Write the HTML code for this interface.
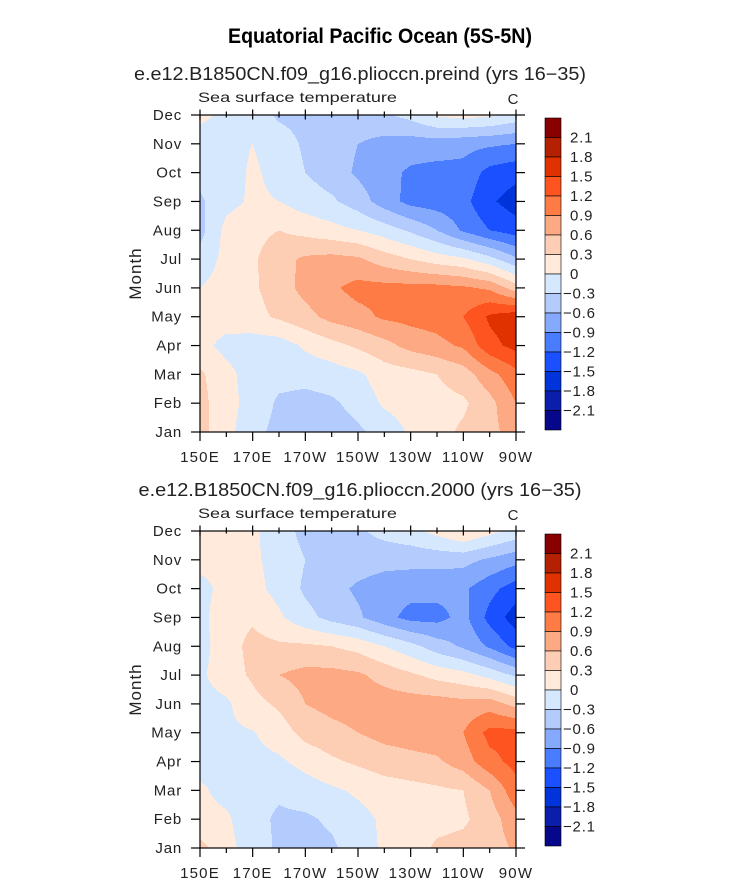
<!DOCTYPE html>
<html><head><meta charset="utf-8">
<style>
html,body{margin:0;padding:0;background:#fff;}
svg{display:block;font-family:"Liberation Sans",sans-serif;}
</style></head>
<body>
<svg id="fig" width="733" height="890" viewBox="0 0 733 890" xmlns="http://www.w3.org/2000/svg">
<text x="228" y="43" textLength="304" lengthAdjust="spacingAndGlyphs" font-size="21" font-weight="bold" fill="#000">Equatorial Pacific Ocean (5S-5N)</text>
</svg>
<script>
// ---- data ----
const months = ["Jan","Feb","Mar","Apr","May","Jun","Jul","Aug","Sep","Oct","Nov","Dec"];
const lons = [150,160,170,180,190,200,210,220,230,240,250,260,270];
const lonTickLabels = ["150E","170E","170W","150W","130W","110W","90W"];
const lonTickValues = [150,170,190,210,230,250,270];
const levels = [-2.1,-1.8,-1.5,-1.2,-0.9,-0.6,-0.3,0,0.3,0.6,0.9,1.2,1.5,1.8,2.1];
const levelLabels = ["2.1","1.8","1.5","1.2","0.9","0.6","0.3","0","\u22120.3","\u22120.6","\u22120.9","\u22121.2","\u22121.5","\u22121.8","\u22122.1"];
const colors = ["#07078c","#0a1eac","#0033d9","#1a50ff","#4a7cff","#85a9fd","#b3cbfd","#d6e8fe","#ffeadb","#fdcdb4","#fdaa84","#fe7b46","#fe5420","#e03200","#b52000","#880000"];
const sstPreind = [
 [0.4,0.1,-0.2,-0.4,-0.45,-0.45,-0.35,-0.2,0.05,0.2,0.35,0.5,0.75],
 [0.4,0.1,-0.1,-0.35,-0.4,-0.35,-0.2,0.05,0.15,0.2,0.25,0.5,0.9],
 [0.35,0.1,-0.15,-0.2,-0.2,-0.15,-0.05,0.15,0.2,0.3,0.45,0.8,1.1],
 [0.1,-0.1,-0.15,-0.15,0.05,0.2,0.35,0.5,0.7,0.8,0.95,1.4,1.6],
 [0.15,0.15,0.2,0.35,0.5,0.7,0.8,0.95,1.0,1.05,1.2,1.55,1.7],
 [0.0,0.15,0.25,0.45,0.7,0.85,1.0,1.0,1.0,1.0,0.95,0.85,0.45],
 [-0.2,0.1,0.25,0.5,0.65,0.7,0.65,0.45,0.3,0.15,0.05,-0.2,-0.55],
 [-0.4,0.1,0.2,0.3,0.2,0.1,0.0,-0.15,-0.35,-0.6,-0.95,-1.2,-1.35],
 [-0.35,-0.1,0.05,0.0,-0.15,-0.25,-0.45,-0.75,-1.0,-1.05,-1.1,-1.45,-1.65],
 [-0.2,-0.15,0.05,-0.1,-0.3,-0.45,-0.65,-0.8,-0.95,-1.0,-1.0,-1.3,-1.4],
 [-0.1,-0.1,0.0,-0.15,-0.35,-0.45,-0.6,-0.7,-0.75,-0.75,-0.8,-0.85,-0.9],
 [0.05,-0.05,-0.15,-0.35,-0.4,-0.4,-0.4,-0.35,-0.2,0.05,0.1,0.05,-0.1]
];
const sst2000 = [
 [0.4,0.1,-0.15,-0.35,-0.4,-0.35,-0.15,0.05,0.15,0.35,0.4,0.45,0.65],
 [0.1,0.05,-0.2,-0.35,-0.35,-0.25,-0.1,0.05,0.15,0.2,0.25,0.45,0.8],
 [0.05,-0.1,-0.2,-0.25,-0.15,-0.05,0.05,0.15,0.2,0.25,0.3,0.6,1.1],
 [-0.1,-0.1,-0.1,-0.05,0.1,0.25,0.35,0.45,0.5,0.55,0.75,1.1,1.3],
 [-0.1,-0.05,-0.02,0.15,0.4,0.5,0.6,0.7,0.75,0.8,0.9,1.3,1.3],
 [-0.1,-0.05,0.2,0.35,0.6,0.7,0.75,0.75,0.75,0.75,0.7,0.75,0.5],
 [-0.05,0.15,0.35,0.6,0.7,0.7,0.65,0.5,0.35,0.2,0.1,-0.1,-0.35],
 [-0.1,0.15,0.4,0.35,0.35,0.3,0.2,0.0,-0.2,-0.45,-0.65,-0.95,-1.3],
 [-0.1,0.2,0.25,0.05,-0.2,-0.4,-0.55,-0.8,-1.0,-1.0,-0.8,-1.3,-1.65],
 [-0.1,0.1,0.1,-0.1,-0.35,-0.5,-0.65,-0.75,-0.8,-0.8,-0.85,-1.1,-1.35],
 [0.1,0.1,0.05,-0.1,-0.3,-0.4,-0.45,-0.5,-0.5,-0.5,-0.5,-0.65,-0.8],
 [0.3,0.1,0.05,-0.15,-0.4,-0.4,-0.35,-0.2,-0.1,0.1,0.3,0.1,-0.1]
];
const subtitles = ["e.e12.B1850CN.f09_g16.plioccn.preind (yrs 16\u221235)","e.e12.B1850CN.f09_g16.plioccn.2000 (yrs 16\u221235)"];
const subtitleLengths = [452, 443];

const NS = "http://www.w3.org/2000/svg";
const svg = document.getElementById('fig');
function mk(tag, attrs, parent){
  const e = document.createElementNS(NS, tag);
  for (const k in attrs) e.setAttribute(k, attrs[k]);
  (parent||svg).appendChild(e);
  return e;
}
function colorIndex(v){
  let i = 0;
  while (i < levels.length && v >= levels[i]) i++;
  return i;
}
function sample(data, lon, m){
  let fx = (lon - lons[0]) / (lons[1]-lons[0]);
  fx = Math.max(0, Math.min(lons.length-1, fx));
  let fy = Math.max(0, Math.min(months.length-1, m));
  const x0 = Math.min(Math.floor(fx), lons.length-2), y0 = Math.min(Math.floor(fy), months.length-2);
  const tx = fx - x0, ty = fy - y0;
  const a = data[y0][x0], b = data[y0][x0+1], c = data[y0+1][x0], d = data[y0+1][x0+1];
  return (a*(1-tx)+b*tx)*(1-ty) + (c*(1-tx)+d*tx)*ty;
}

function panel(data, top, idx){
  const L = 200, R = 516, T = top, B = top + 317;
  const xScale = lon => L + (lon - 150) / 120 * (R - L);
  const yScale = m => B - m / 11 * (B - T);
  const g = mk('g', {}, svg);
  
  
  const st = mk('text', {x: 360 - subtitleLengths[idx]/2 + (idx? 0:0), y: top - 35, textLength: subtitleLengths[idx], lengthAdjust:'spacingAndGlyphs', 'font-size':18, fill:'#222'}, svg);
  st.textContent = subtitles[idx];
  
  
  const ss = mk('text', {x: 198, y: top - 13, textLength: 199, lengthAdjust:'spacingAndGlyphs', 'font-size':14, fill:'#222'}, svg);
  ss.textContent = 'Sea surface temperature';
  
  
  const un = mk('text', {x: 513, y: top - 11, 'text-anchor':'middle', 'font-size':15, fill:'#222'}, svg);
  un.textContent = 'C';
  
  
  const step = 1;
  for (let py = T; py < B; py += step){
    const m = (B - (py + step/2)) / (B - T) * 11;
    let runStart = L, runCol = -1;
    for (let px = L; px <= R; px += 1){
      let ci = -2;
      if (px < R){
        const lon = 150 + (px + 0.5 - L) / (R - L) * 120;
        ci = colorIndex(sample(data, lon, m));
      }
      if (ci !== runCol){
        if (runCol >= 0){
          const r = mk('rect', {x: runStart, y: py, width: px - runStart, height: Math.min(step, B-py)+0.3, fill: colors[runCol]}, g);
          
          
        }
        runStart = px; runCol = ci;
      }
    }
  }
  const fr = mk('rect', {x:L, y:T, width:R-L, height:B-T, fill:'none', stroke:'#000', 'stroke-width':1.2}, svg);
  
  
  months.forEach((mn, i) => {
    const y = yScale(i);
    const t1 = mk('line', {x1:L-9, x2:L, y1:y, y2:y, stroke:'#000', 'stroke-width':1.2}, svg);
    
    
    const t2 = mk('line', {x1:R, x2:R+9, y1:y, y2:y, stroke:'#000', 'stroke-width':1.2}, svg);
    
    
    const lb = mk('text', {x: 182, y: y + 5, 'text-anchor':'end', 'font-size':15, 'letter-spacing':'0.8', fill:'#222'}, svg);
    lb.textContent = mn;
    
    
  });
  for (let lon = 150; lon <= 270; lon += 10){
    const x = xScale(lon);
    const major = (lon - 150) % 20 === 0;
    const len = major ? 9 : 5;
    const tb = mk('line', {x1:x, x2:x, y1:B, y2:B+len, stroke:'#000', 'stroke-width':1.2}, svg);
    
    
    const tt = mk('line', {x1:x, x2:x, y1:T-len/2-1, y2:T+len/2, stroke:'#000', 'stroke-width':1.2}, svg);
    
    
  }
  lonTickValues.forEach((v, i) => {
    const lb = mk('text', {x: xScale(v), y: B + 30, 'text-anchor':'middle', 'font-size':15, 'letter-spacing':'1.2', fill:'#222'}, svg);
    lb.textContent = lonTickLabels[i];
    
    
  });
  const yt = mk('text', {x: 0, y: 0, 'text-anchor':'middle', 'font-size':17, 'letter-spacing':'1', fill:'#222', transform:`translate(141,${(T+B)/2}) rotate(-90)`}, svg);
  yt.textContent = 'Month';
  
  
  const cbT = T + 3, bh = 19.5, cbX = 545, cbW = 16;
  const cg = mk('g', {}, svg);
  
  
  for (let k = 0; k < colors.length; k++){
    const ci = colors.length - 1 - k;
    const r = mk('rect', {x: cbX, y: cbT + k*bh, width: cbW, height: bh, fill: colors[ci], stroke:'#000', 'stroke-width':0.6}, cg);
    
    
  }
  levelLabels.forEach((s, k) => {
    const y = cbT + (k+1)*bh;
    const neg = s.charAt(0) === '\u2212';
    const lb = mk('text', {x: neg ? 563 : 570, y: y + 5, 'font-size':15, 'letter-spacing':'0.8', fill:'#222'}, cg);
    lb.textContent = s;
    
    
  });
}
panel(sstPreind, 115, 0);
panel(sst2000, 531, 1);
</script>
</body></html>
